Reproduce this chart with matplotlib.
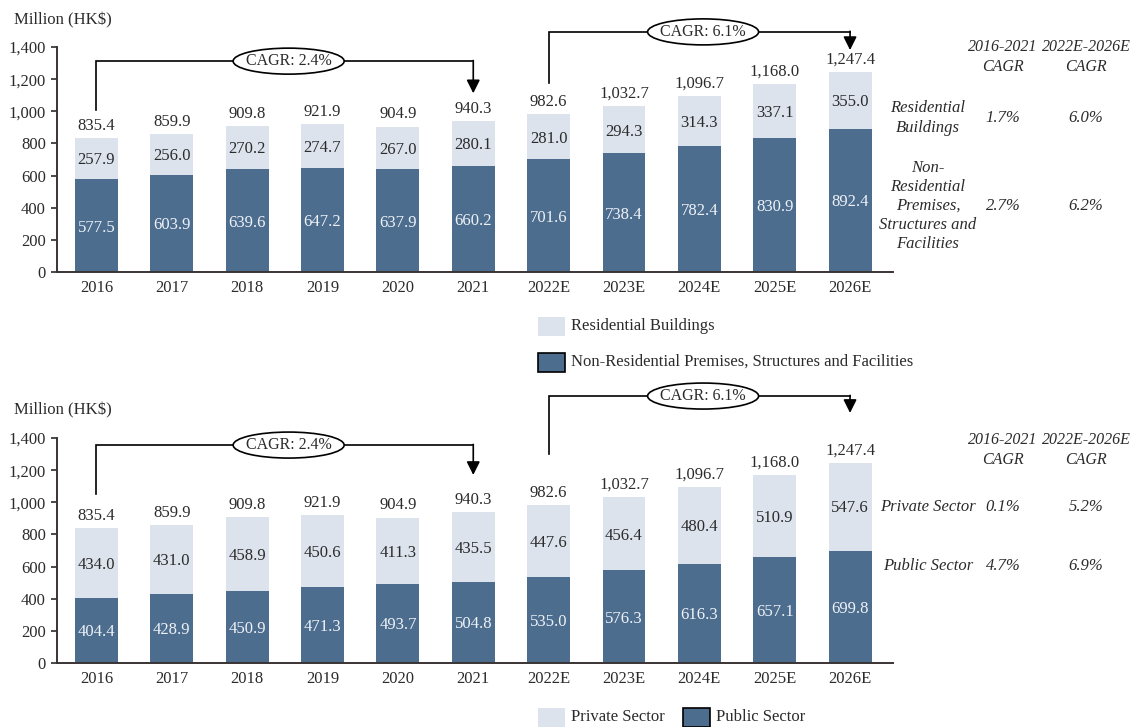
"""Hong Kong construction output charts: building type and sector split."""

import matplotlib

matplotlib.use("Agg")
import matplotlib.pyplot as plt
from matplotlib.patches import Ellipse, Rectangle

plt.rcParams["font.family"] = ["Liberation Serif", "DejaVu Serif"]
plt.rcParams["font.size"] = 12

years = ["2016", "2017", "2018", "2019", "2020", "2021",
         "2022E", "2023E", "2024E", "2025E", "2026E"]
totals = [835.4, 859.9, 909.8, 921.9, 904.9, 940.3,
          982.6, 1032.7, 1096.7, 1168.0, 1247.4]

non_residential = [577.5, 603.9, 639.6, 647.2, 637.9, 660.2,
                   701.6, 738.4, 782.4, 830.9, 892.4]
residential = [257.9, 256.0, 270.2, 274.7, 267.0, 280.1,
               281.0, 294.3, 314.3, 337.1, 355.0]

public_sector = [404.4, 428.9, 450.9, 471.3, 493.7, 504.8,
                 535.0, 576.3, 616.3, 657.1, 699.8]
private_sector = [434.0, 431.0, 458.9, 450.6, 411.3, 435.5,
                  447.6, 456.4, 480.4, 510.9, 547.6]

cagr_past = "CAGR: 2.4%"
cagr_future = "CAGR: 6.1%"

type_rows = ["Residential\nBuildings",
             "Non-\nResidential\nPremises,\nStructures and\nFacilities"]
type_cagr_past = ["1.7%", "2.7%"]
type_cagr_future = ["6.0%", "6.2%"]

sector_rows = ["Private Sector", "Public Sector"]
sector_cagr_past = ["0.1%", "4.7%"]
sector_cagr_future = ["5.2%", "6.9%"]

DARK = "#4d6d8f"
LIGHT = "#dce3ed"
INK = "#2b2b2b"

W, H = 1131, 727
X0, X1 = 57, 893          # axes left/right in pixels
XLIM = (-0.524, 10.57)
AX_H = 225                # axes height in pixels


def fx(px):
    return px / W


def fy(py):
    return 1 - py / H


def draw_stacked(ax, lower, upper):
    x = list(range(len(years)))
    ax.bar(x, lower, width=0.57, color=DARK)
    ax.bar(x, upper, width=0.57, bottom=lower, color=LIGHT)
    for i in x:
        ax.text(i, lower[i] / 2 - 12, f"{lower[i]:.1f}", ha="center", va="center",
                color="#eef2f7")
        ax.text(i, lower[i] + upper[i] / 2 - 12, f"{upper[i]:.1f}", ha="center",
                va="center", color=INK)
        ax.annotate(f"{totals[i]:,.1f}", (i, lower[i] + upper[i]), xytext=(0, 3),
                    textcoords="offset points", ha="center", va="bottom", color=INK)
    ax.set_xlim(*XLIM)
    ax.set_ylim(0, 1400)
    ax.set_yticks(range(0, 1401, 200))
    ax.set_yticklabels([f"{v:,}" for v in range(0, 1401, 200)])
    ax.set_xticks(x)
    ax.set_xticklabels(years)
    ax.tick_params(axis="x", length=0, pad=6, colors=INK)
    ax.tick_params(axis="y", length=4, width=1.2, pad=4, colors=INK)
    for side in ("top", "right"):
        ax.spines[side].set_visible(False)
    for side in ("left", "bottom"):
        ax.spines[side].set_linewidth(1.4)
        ax.spines[side].set_color("#3a3333")


def bracket(ax, i0, i1, y_start, y_top, y_tip, label, label_x):
    ax.plot([i0, i0, i1], [y_start, y_top, y_top], color="black", lw=1.2,
            clip_on=False, solid_joinstyle="miter", zorder=3)
    ax.annotate("", xy=(i1, y_tip), xytext=(i1, y_top + 4),
                arrowprops=dict(arrowstyle="-|>", color="black", lw=1.2,
                                mutation_scale=20, shrinkA=0, shrinkB=0),
                annotation_clip=False)
    # ellipse sized in pixels, converted to data units
    ew = 111 * (XLIM[1] - XLIM[0]) / (X1 - X0)
    eh = 26 * 1400 / AX_H
    ax.add_patch(Ellipse((label_x, y_top), ew, eh, facecolor="white", edgecolor="black",
                         lw=1.2, clip_on=False, zorder=4))
    ax.text(label_x, y_top, label, ha="center", va="center", color=INK,
            fontsize=11.5, clip_on=False, zorder=5)


def cagr_table(y_header, row_labels, past, future, row_ys):
    fig.text(fx(1003), fy(y_header), "2016-2021\nCAGR", ha="center", va="center",
             style="italic", color=INK, linespacing=1.3, fontsize=11.5)
    fig.text(fx(1086), fy(y_header), "2022E-2026E\nCAGR", ha="center", va="center",
             style="italic", color=INK, linespacing=1.3, fontsize=11.5)
    for label, a, b, ry in zip(row_labels, past, future, row_ys):
        fig.text(fx(928), fy(ry), label, ha="center", va="center", style="italic",
                 color=INK, linespacing=1.25)
        fig.text(fx(1003), fy(ry), a, ha="center", va="center", style="italic", color=INK)
        fig.text(fx(1086), fy(ry), b, ha="center", va="center", style="italic", color=INK)


def legend_item(x, y, color, edge, label):
    fig.add_artist(Rectangle((fx(x), fy(y + 10)), fx(27), 19 / H, transform=fig.transFigure,
                             facecolor=color, edgecolor=edge, lw=1.2 if edge else 0))
    fig.text(fx(x + 33), fy(y), label, ha="left", va="center", color=INK)


fig = plt.figure(figsize=(W / 100, H / 100), dpi=100)

ax1 = fig.add_axes([fx(X0), fy(272), fx(X1 - X0), AX_H / H])
draw_stacked(ax1, non_residential, residential)
bracket(ax1, 0, 5, 1006, 1312, 1112, cagr_past, 2.55)
bracket(ax1, 6, 10, 1175, 1494, 1381, cagr_future, 8.05)
fig.text(fx(14), fy(20), "Million (HK$)", ha="left", va="center", color=INK)
cagr_table(57, type_rows, type_cagr_past, type_cagr_future, [118, 206])
legend_item(538, 326, LIGHT, None, "Residential Buildings")
legend_item(538, 362, DARK, "black", "Non-Residential Premises, Structures and Facilities")

ax2 = fig.add_axes([fx(X0), fy(663), fx(X1 - X0), AX_H / H])
draw_stacked(ax2, public_sector, private_sector)
bracket(ax2, 0, 5, 1052, 1356, 1170, cagr_past, 2.55)
bracket(ax2, 6, 10, 1300, 1661, 1556, cagr_future, 8.05)
fig.text(fx(14), fy(410), "Million (HK$)", ha="left", va="center", color=INK)
cagr_table(450, sector_rows, sector_cagr_past, sector_cagr_future, [507, 566])
legend_item(538, 717, LIGHT, None, "Private Sector")
legend_item(683, 717, DARK, "black", "Public Sector")

fig.savefig("out.png", dpi=100)
